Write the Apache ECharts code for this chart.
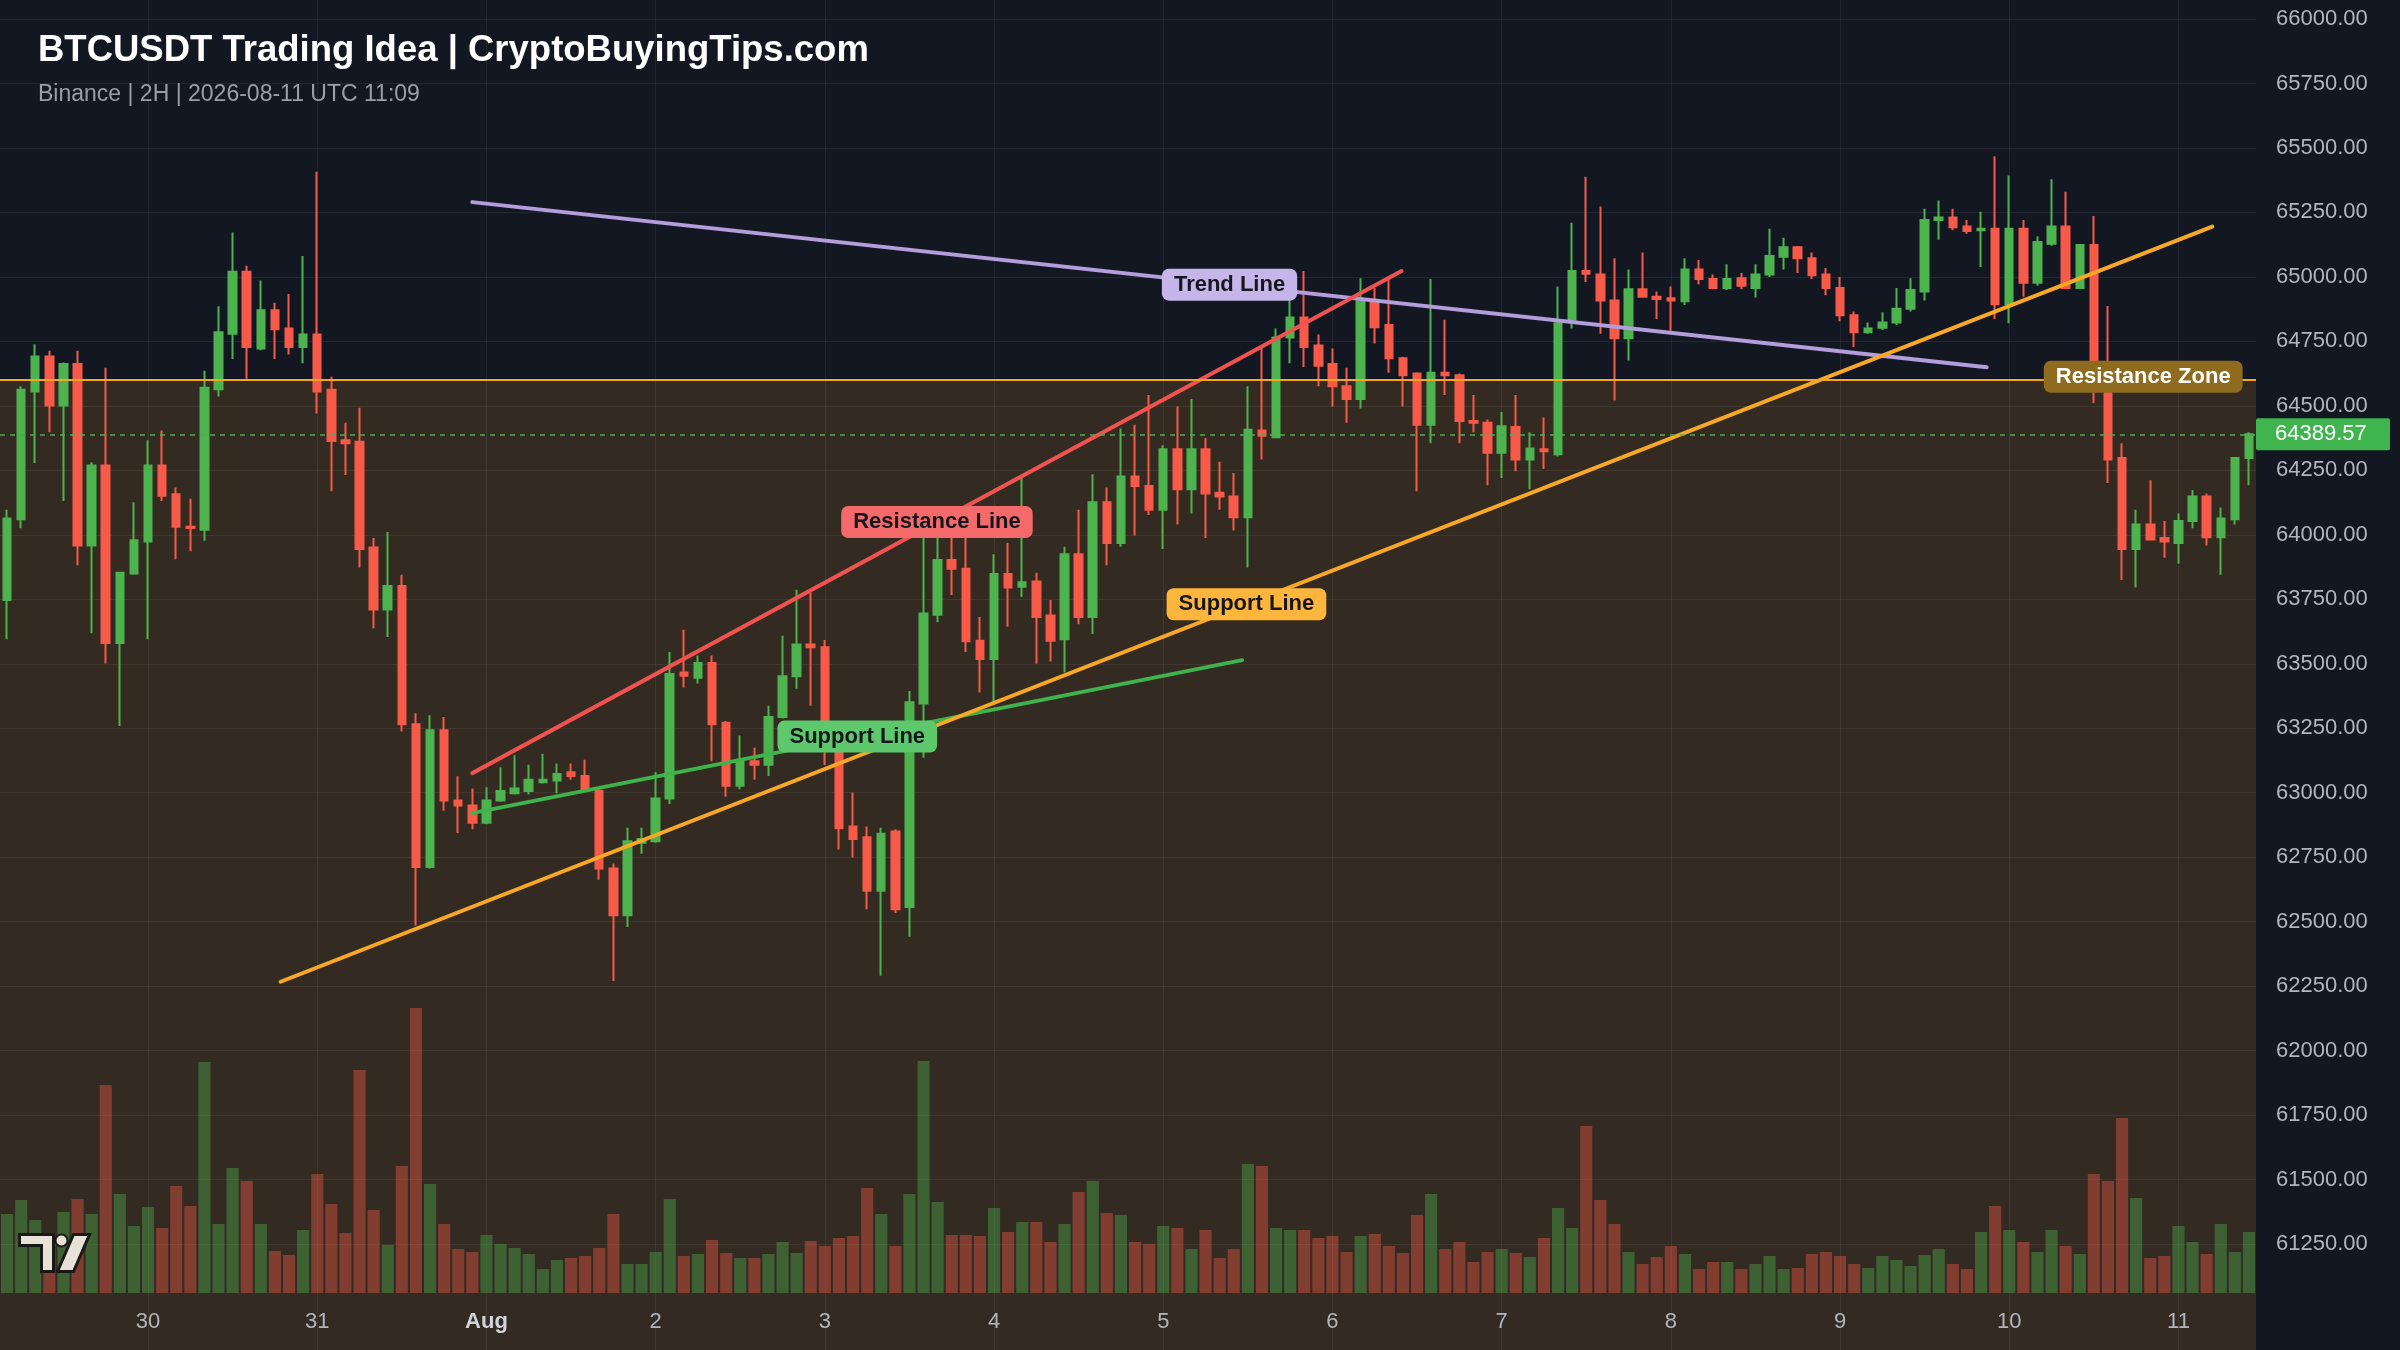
<!DOCTYPE html>
<html>
<head>
<meta charset="utf-8">
<script src="https://cdn.jsdelivr.net/npm/echarts@6/dist/echarts.min.js"></script>
<style>
html,body{margin:0;padding:0;background:#131722;}
#c{width:2400px;height:1350px;}
</style>
</head>
<body>
<div id="c"></div>
<script>
// ---------- DATA ----------
// 2H candles, Binance BTCUSDT, from 2026-07-29 04:00 UTC to 2026-08-11 10:00 UTC
const startTime = Date.UTC(2026, 6, 29, 4, 0);
const candleCount = 160;
const categories = [];
for (let i = 0; i < candleCount; i++) {
  const d = new Date(startTime + i * 7200000);
  const p = n => String(n).padStart(2, '0');
  categories.push(d.getUTCFullYear() + '-' + p(d.getUTCMonth() + 1) + '-' + p(d.getUTCDate()) + ' ' + p(d.getUTCHours()) + ':00');
}

const opens = [
  63747, 64060, 64556, 64691, 64501, 64662, 63959, 64269, 63581, 63850,
  63974, 64269, 64157, 64031, 64020, 64564, 64780, 65020, 64722, 64871,
  64800, 64728, 64777, 64562, 64367, 64361, 63951, 63710, 63802, 63265,
  62712, 63242, 62970, 62950, 62884, 62970, 62998, 63007, 63041, 63047,
  63079, 63065, 63007, 62706, 62525, 62806, 62812, 62978, 63466, 63446,
  63503, 63271, 63027, 63122, 63108, 63294, 63452, 63575, 63564, 63231,
  62869, 62827, 62620, 62850, 62557, 63346, 63690, 63902, 63868, 63589,
  63518, 63848, 63799, 63819, 63687, 63595, 63925, 63681, 64126, 63968,
  64226, 64189, 64097, 64332, 64177, 64332, 64163, 64149, 64068, 64404,
  64378, 64765, 64843, 64734, 64662, 64576, 64527, 64906, 64814, 64685,
  64625, 64427, 64628, 64619, 64441, 64435, 64318, 64418, 64292, 64332,
  64312, 64834, 65023, 65009, 64909, 64762, 64952, 64923, 64917, 64906,
  65029, 64992, 64957, 64995, 64957, 65009, 65078, 65115, 65072, 65009,
  64957, 64851, 64785, 64803, 64823, 64877, 64943, 65221, 65230, 65195,
  65181, 65187, 64894, 65187, 64977, 65129, 65195, 64957, 65124, 64620,
  64298, 63945, 64040, 63988, 63968, 64054, 64149, 63991, 64060, 64298
];
const highs = [
  64097, 64576, 64739, 64714, 64668, 64714, 64281, 64648, 63853, 64126,
  64367, 64404, 64183, 64140, 64636, 64886, 65172, 65043, 64986, 64900,
  64934, 65081, 65408, 64613, 64435, 64493, 63988, 64011, 63845, 63308,
  63300, 63294, 63064, 63016, 63021, 63099, 63145, 63108, 63151, 63113,
  63113, 63128, 63021, 62726, 62864, 62864, 63079, 63546, 63632, 63532,
  63532, 63278, 63222, 63174, 63337, 63609, 63787, 63776, 63592, 63245,
  63001, 62869, 62864, 62858, 63394, 64040, 64011, 63997, 63988, 63681,
  63925, 63968, 64226, 63853, 63747, 63954, 64097, 64235, 64183, 64412,
  64427, 64542, 64347, 64498, 64527, 64375, 64283, 64240, 64576, 64728,
  64800, 64923, 65023, 64777, 64722, 64648, 64995, 64957, 64992, 64690,
  64630, 64992, 64834, 64625, 64542, 64447, 64476, 64542, 64398, 64455,
  64963, 65210, 65388, 65273, 65072, 65029, 65095, 64943, 64963, 65072,
  65066, 65009, 65049, 65015, 65049, 65187, 65152, 65120, 65095, 65035,
  65000, 64866, 64823, 64863, 64957, 64995, 65264, 65296, 65264, 65221,
  65253, 65468, 65393, 65221, 65158, 65379, 65330, 65128, 65236, 64887,
  64355, 64097, 64212, 64054, 64083, 64174, 64160, 64106, 64302, 64398
];
const lows = [
  63595, 64025, 64278, 64398, 64131, 63882, 63618, 63501, 63259, 63845,
  63595, 64131, 63905, 63936, 63977, 64536, 64682, 64605, 64716, 64682,
  64699, 64665, 64470, 64169, 64232, 63873, 63638, 63604, 63237, 62485,
  62706, 62930, 62844, 62858, 62878, 62965, 62993, 62993, 63036, 62998,
  63050, 63007, 62663, 62270, 62479, 62763, 62806, 62956, 63408, 63423,
  63122, 62984, 63013, 63050, 63065, 63288, 63403, 63337, 63107, 62780,
  62749, 62548, 62290, 62534, 62442, 63136, 63661, 63767, 63546, 63389,
  63351, 63644, 63759, 63500, 63509, 63466, 63653, 63615, 63882, 63954,
  63997, 64077, 63945, 64040, 64083, 63988, 64097, 64017, 63873, 64292,
  64374, 64665, 64651, 64576, 64498, 64435, 64490, 64742, 64628, 64498,
  64169, 64355, 64542, 64355, 64398, 64192, 64220, 64246, 64177, 64255,
  64304, 64800, 64980, 64780, 64521, 64676, 64920, 64837, 64791, 64891,
  64972, 64952, 64949, 64952, 64920, 65000, 65029, 65015, 64992, 64929,
  64828, 64728, 64780, 64794, 64814, 64866, 64909, 65144, 65181, 65167,
  65038, 64837, 64820, 64923, 64966, 65121, 64952, 64953, 64511, 64201,
  63825, 63796, 63978, 63911, 63888, 64025, 63959, 63845, 64040, 64192
];
const closes = [
  64063, 64562, 64691, 64501, 64662, 63959, 64269, 63581, 63853, 63979,
  64269, 64151, 64031, 64026, 64570, 64785, 65020, 64728, 64871, 64797,
  64728, 64777, 64556, 64364, 64355, 63945, 63710, 63802, 63265, 62712,
  63242, 62970, 62950, 62884, 62970, 63007, 63016, 63050, 63050, 63073,
  63065, 63007, 62706, 62525, 62812, 62821, 62978, 63460, 63454, 63503,
  63265, 63027, 63122, 63108, 63294, 63452, 63575, 63564, 63231, 62862,
  62821, 62620, 62841, 62548, 63351, 63695, 63902, 63868, 63587, 63518,
  63848, 63796, 63816, 63681, 63589, 63925, 63681, 64126, 63968, 64226,
  64189, 64097, 64332, 64177, 64332, 64160, 64149, 64068, 64407, 64384,
  64765, 64843, 64728, 64656, 64576, 64527, 64906, 64805, 64685, 64619,
  64427, 64628, 64619, 64441, 64435, 64318, 64421, 64292, 64335, 64324,
  64820, 65023, 65012, 64909, 64762, 64952, 64923, 64914, 64909, 65029,
  64992, 64957, 64992, 64966, 65009, 65081, 65115, 65072, 65006, 64957,
  64851, 64785, 64800, 64823, 64877, 64949, 65221, 65230, 65193, 65178,
  65187, 64894, 65187, 64977, 65135, 65195, 64957, 65124, 64620, 64292,
  63945, 64040, 63982, 63974, 64054, 64149, 63991, 64063, 64298, 64389.57
];
const volumes = [
  790, 930, 730, 560, 810, 940, 790, 2080, 990, 670,
  860, 650, 1070, 870, 2310, 690, 1250, 1120, 690, 420,
  380, 630, 1190, 890, 600, 2230, 830, 480, 1270, 2850,
  1090, 690, 440, 410, 580, 490, 450, 390, 240, 330,
  350, 370, 450, 790, 290, 290, 410, 940, 370, 390,
  530, 400, 350, 350, 390, 510, 400, 520, 470, 550,
  570, 1050, 790, 470, 990, 2320, 910, 580, 580, 570,
  850, 610, 710, 710, 510, 690, 1010, 1120, 800, 780,
  510, 490, 670, 650, 440, 630, 350, 440, 1290, 1270,
  650, 630, 630, 550, 570, 410, 570, 590, 470, 400,
  780, 990, 440, 510, 310, 410, 440, 400, 360, 550,
  850, 650, 1670, 930, 690, 410, 290, 360, 470, 390,
  240, 310, 310, 240, 290, 370, 240, 250, 390, 410,
  370, 290, 250, 370, 330, 270, 380, 440, 290, 240,
  610, 870, 630, 510, 410, 630, 470, 390, 1190, 1120,
  1750, 950, 350, 370, 670, 510, 390, 690, 410, 610
];

const priceTicks = [61250, 61500, 61750, 62000, 62250, 62500, 62750, 63000, 63250, 63500, 63750,
  64000, 64250, 64500, 64750, 65000, 65250, 65500, 65750, 66000];
const lastPrice = 64389.57;
const resistanceZoneLevel = 64600;

// drawn annotations: [candle index, price] end points
const trendLine = [[33.0, 65290], [140.4, 64650]];
const resistanceLine = [[33.0, 63076], [98.9, 65023]];
const supportLineGreen = [[33.0, 62921], [87.6, 63514]];
const supportLineOrange = [[19.4, 62267], [156.4, 65195]];
const resistanceZoneLabelAt = [151.5, 64613];

// ---------- STYLE ----------
const FONT = '"Liberation Sans", Arial, Helvetica, sans-serif';
const UP = '#4db34f', DOWN = '#f75a48';
const VOL_UP = 'rgba(77,179,79,0.4)', VOL_DOWN = 'rgba(247,90,72,0.4)';
const GRID_LINE = 'rgba(255,255,255,0.065)';
const CLEAR = 'rgba(0,0,0,0)';
const BROWN = '#332a21';

const monthNames = ['Jan','Feb','Mar','Apr','May','Jun','Jul','Aug','Sep','Oct','Nov','Dec'];
const isMidnight = v => v.endsWith(' 00:00');
const midnightCats = categories.filter(isMidnight);

const candleData = categories.map((c, i) => [opens[i], closes[i], lows[i], highs[i]]);
const volumeData = volumes.map((v, i) => ({
  value: v,
  itemStyle: { color: closes[i] >= opens[i] ? VOL_UP : VOL_DOWN }
}));

// price axis: ticks from 60750 every 250 (the lowest two fall below the plot), plus the axis max
const yMin = 60750, yMax = 66073.7;
const splitColors = [];
for (let v = yMin; v <= 66000; v += 250) splitColors.push(v < 61250 ? CLEAR : GRID_LINE);
splitColors.push(CLEAR);

function annotation(pts, color) {
  return {
    type: 'line', xAxisIndex: 2, yAxisIndex: 0, data: pts,
    symbol: 'none', silent: true, animation: false, z: 4,
    lineStyle: { color: color, width: 4, cap: 'round' }
  };
}
function mid(pts) { return [(pts[0][0] + pts[1][0]) / 2, (pts[0][1] + pts[1][1]) / 2]; }
function tag(pos, text, bg, fg) {
  return {
    value: pos,
    label: {
      show: true, position: 'inside', formatter: text, opacity: 1,
      backgroundColor: bg, color: fg, fontFamily: FONT, fontSize: 22, fontWeight: 'bold',
      padding: [5, 12, 5, 12], borderRadius: 7
    }
  };
}

const option = {
  backgroundColor: '#131722',
  animation: false,
  textStyle: { fontFamily: FONT },
  title: {
    text: 'BTCUSDT Trading Idea | CryptoBuyingTips.com',
    subtext: 'Binance | 2H | 2026-08-11 UTC 11:09',
    left: 33, top: 27, itemGap: 14,
    textStyle: { color: '#ffffff', fontSize: 36.5, fontWeight: 'bold', fontFamily: FONT },
    subtextStyle: { color: '#9a9ea8', fontSize: 23, fontFamily: FONT }
  },
  grid: [
    { left: 0, right: 144, top: 0, bottom: -23, outerBoundsMode: 'none', containLabel: false },
    { left: 0, right: 144, bottom: 57, height: 300, outerBoundsMode: 'none', containLabel: false }
  ],
  xAxis: [
    { type: 'category', gridIndex: 0, data: categories, boundaryGap: true, show: false },
    {
      type: 'category', gridIndex: 1, data: categories, boundaryGap: true, z: 3,
      axisLine: { show: false }, axisTick: { show: false }, splitLine: { show: false },
      axisLabel: {
        interval: (idx, val) => isMidnight(val),
        margin: 18, color: '#b2b5be', fontSize: 22, fontFamily: FONT,
        formatter: v => {
          if (!isMidnight(v)) return '';
          const day = parseInt(v.slice(8, 10), 10);
          if (day === 1) return '{m|' + monthNames[parseInt(v.slice(5, 7), 10) - 1] + '}';
          return String(day);
        },
        rich: { m: { fontWeight: 'bold', color: '#d1d4dc', fontSize: 22, fontFamily: FONT } }
      }
    },
    { type: 'value', gridIndex: 0, min: -0.5, max: candleCount - 0.5, show: false }
  ],
  yAxis: [
    {
      type: 'value', gridIndex: 0, position: 'right', min: yMin, max: yMax, interval: 250, z: 1.5,
      axisLine: { show: false }, axisTick: { show: false },
      axisLabel: {
        margin: 20, color: '#b2b5be', fontSize: 22, fontFamily: FONT, padding: [4, 0, 0, 0],
        formatter: v => (priceTicks.indexOf(v) >= 0 ? v.toFixed(2) : '')
      },
      splitLine: { show: true, lineStyle: { color: splitColors, width: 1 } }
    },
    { type: 'value', gridIndex: 1, min: 0, max: 3000, show: false, splitLine: { show: false } }
  ],
  series: [
    {
      type: 'line', xAxisIndex: 0, yAxisIndex: 0, data: [], silent: true,
      markArea: {
        silent: true, z: 1,
        itemStyle: { color: BROWN },
        data: [[{ yAxis: resistanceZoneLevel }, { yAxis: yMin }]]
      },
      markLine: {
        silent: true, z: 1.6, symbol: ['none', 'none'], animation: false,
        label: { show: false },
        lineStyle: { color: GRID_LINE, type: 'solid', width: 1 },
        data: midnightCats.map(c => ({ xAxis: c }))
      }
    },
    {
      type: 'bar', xAxisIndex: 1, yAxisIndex: 1, data: volumeData,
      barWidth: '86%', silent: true, z: 2
    },
    {
      type: 'candlestick', xAxisIndex: 0, yAxisIndex: 0, data: candleData,
      barWidth: 8, clip: false, z: 3, silent: true,
      itemStyle: { color: UP, color0: DOWN, borderColor: UP, borderColor0: DOWN, borderWidth: 2 },
      markLine: {
        silent: true, symbol: ['none', 'none'], animation: false, z: 5,
        data: [
          {
            yAxis: resistanceZoneLevel,
            lineStyle: { color: '#f5a623', type: 'solid', width: 2 },
            label: { show: false }
          },
          {
            yAxis: lastPrice,
            lineStyle: { color: '#4caf50', type: [5, 5], width: 1.5 },
            label: {
              show: true, position: 'end', distance: 0,
              formatter: lastPrice.toFixed(2),
              backgroundColor: '#3fb44f', color: '#ffffff', fontFamily: FONT, fontSize: 22,
              width: 98, align: 'left', overflow: 'none',
              padding: [6, 17, 4, 19], borderRadius: 2
            }
          }
        ]
      }
    },
    annotation(trendLine, '#b39ddb'),
    annotation(resistanceLine, '#ef5350'),
    annotation(supportLineGreen, '#3fb24c'),
    annotation(supportLineOrange, '#f9a825'),
    {
      type: 'scatter', xAxisIndex: 2, yAxisIndex: 0, symbolSize: 1, silent: true, z: 6,
      itemStyle: { color: CLEAR, opacity: 1 },
      data: [
        tag(mid(trendLine), 'Trend Line', '#c6b5e8', '#15171f'),
        tag(mid(resistanceLine), 'Resistance Line', '#f4696a', '#15171f'),
        tag(mid(supportLineGreen), 'Support Line', '#5dc86c', '#15171f'),
        tag(mid(supportLineOrange), 'Support Line', '#fdb53c', '#15171f'),
        tag(resistanceZoneLabelAt, 'Resistance Zone', '#8f6b1f', '#ffffff')
      ]
    }
  ],
  graphic: [
    {
      type: 'group', left: 18, top: 1233, z: 10, silent: true,
      children: [
        { type: 'polygon', z: 10, shape: { points: [[0, 0], [34, 0], [34, 37], [22, 37], [22, 11], [0, 11]] },
          style: { fill: '#e8e1d8', stroke: '#1b1916', lineWidth: 3 } },
        { type: 'circle', z: 10, shape: { cx: 42, cy: 6, r: 6 },
          style: { fill: '#e8e1d8', stroke: '#1b1916', lineWidth: 2 } },
        { type: 'polygon', z: 10, shape: { points: [[54, 0], [70, 0], [54, 37], [38, 37]] },
          style: { fill: '#e8e1d8', stroke: '#1b1916', lineWidth: 3 } }
      ]
    }
  ]
};

const chart = echarts.init(document.getElementById('c'), null, { renderer: 'canvas', width: 2400, height: 1350 });
chart.setOption(option);
</script>
</body>
</html>
